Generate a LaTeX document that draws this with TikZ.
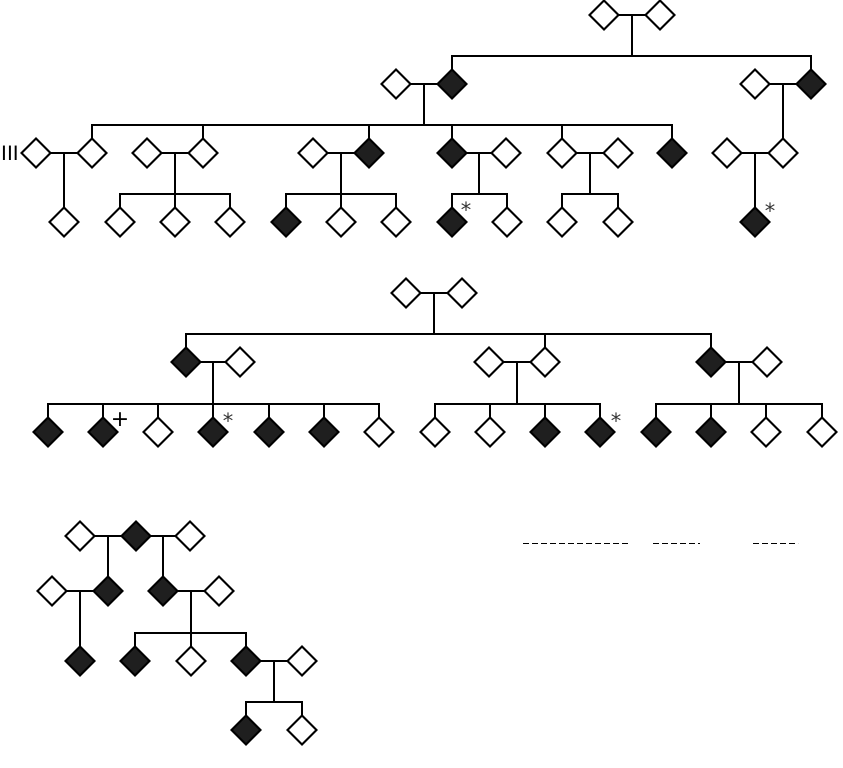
\documentclass[tikz,border=0pt]{standalone}
\usepackage{fontspec}
\newfontfamily\mkfont{DejaVu Sans}
\newfontfamily\lblfont{Liberation Sans}
\usetikzlibrary{shapes.geometric,calc}
\begin{document}
\begin{tikzpicture}[x=1pt,y=-1pt,
  ind/.style={diamond,draw=black,line width=1.8pt,minimum width=29pt,minimum height=29pt,inner sep=0pt,outer sep=0pt},
  aff/.style={ind,fill=black!88},
  un/.style={ind,fill=white},
  ln/.style={line width=2pt,line cap=rect},
  star/.style={font=\mkfont\fontsize{21}{21}\selectfont,inner sep=0pt,text=black!80},
  plus/.style={font=\mkfont\fontsize{22}{22}\selectfont,inner sep=0pt},
  gen/.style={font=\lblfont\fontsize{21}{21}\selectfont,inner sep=0pt},
  dsh/.style={line width=1pt,dash pattern=on 6pt off 3pt}]
\useasboundingbox (0,0) rectangle (843,768);

% ---------------- Panel A ----------------
\node[un] (A1) at (604,15) {};
\node[un] (A2) at (660,15) {};
\node[un] (A3) at (396,84) {};
\node[aff] (A4) at (452,84) {};
\node[un] (A5) at (755,84) {};
\node[aff] (A6) at (811,84) {};
\coordinate (sA1) at (632,56);
\draw[ln] (A1) -- (A2);
\draw[ln] ($(A1)!.5!(A2)$) -- (sA1);
\draw[ln] (A4 |- sA1) -- (A6 |- sA1);
\draw[ln] (A4.north) -- (A4 |- sA1);
\draw[ln] (A6.north) -- (A6 |- sA1);

\node[un] (B1) at (36,153) {};
\node[un] (B2) at (92,153) {};
\node[un] (B3) at (147,153) {};
\node[un] (B4) at (203,153) {};
\node[un] (B5) at (313,153) {};
\node[aff] (B6) at (369,153) {};
\node[aff] (B7) at (452,153) {};
\node[un] (B8) at (506,153) {};
\node[un] (B9) at (562,153) {};
\node[un] (B10) at (618,153) {};
\node[aff] (B11) at (672,153) {};
\node[un] (B12) at (727,153) {};
\node[un] (B13) at (783,153) {};

\coordinate (sA2) at (424,125);
\draw[ln] (A3) -- (A4);
\draw[ln] ($(A3)!.5!(A4)$) -- (sA2);
\draw[ln] (B2 |- sA2) -- (B11 |- sA2);
\foreach \c in {B2,B4,B6,B7,B9,B11} \draw[ln] (\c.north) -- (\c |- sA2);
\draw[ln] (A5) -- (A6);
\draw[ln] ($(A5)!.5!(A6)$) -- (B13.north);

\node[un] (C1) at (64,222) {};
\node[un] (C2) at (120,222) {};
\node[un] (C3) at (175,222) {};
\node[un] (C4) at (230,222) {};
\node[aff] (C5) at (286,222) {};
\node[un] (C6) at (341,222) {};
\node[un] (C7) at (396,222) {};
\node[aff] (C8) at (452,222) {};
\node[un] (C9) at (507,222) {};
\node[un] (C10) at (562,222) {};
\node[un] (C11) at (618,222) {};
\node[aff] (C12) at (755,222) {};

\draw[ln] (B1) -- (B2);
\draw[ln] ($(B1)!.5!(B2)$) -- (C1.north);

\draw[ln] (B3) -- (B4);
\coordinate (sB34) at (175,194);
\draw[ln] ($(B3)!.5!(B4)$) -- (sB34);
\draw[ln] (C2 |- sB34) -- (C4 |- sB34);
\foreach \c in {C2,C3,C4} \draw[ln] (\c.north) -- (\c |- sB34);

\draw[ln] (B5) -- (B6);
\coordinate (sB56) at (341,194);
\draw[ln] ($(B5)!.5!(B6)$) -- (sB56);
\draw[ln] (C5 |- sB56) -- (C7 |- sB56);
\foreach \c in {C5,C6,C7} \draw[ln] (\c.north) -- (\c |- sB56);

\draw[ln] (B7) -- (B8);
\coordinate (sB78) at (479,194);
\draw[ln] ($(B7)!.5!(B8)$) -- (sB78);
\draw[ln] (C8 |- sB78) -- (C9 |- sB78);
\foreach \c in {C8,C9} \draw[ln] (\c.north) -- (\c |- sB78);

\draw[ln] (B9) -- (B10);
\coordinate (sB910) at (590,194);
\draw[ln] ($(B9)!.5!(B10)$) -- (sB910);
\draw[ln] (C10 |- sB910) -- (C11 |- sB910);
\foreach \c in {C10,C11} \draw[ln] (\c.north) -- (\c |- sB910);

\draw[ln] (B12) -- (B13);
\draw[ln] ($(B12)!.5!(B13)$) -- (C12.north);

\node[gen,anchor=west] (lIII) at (1,153) {III};
\node[star] (s1) at (466,210) {*};
\node[star] (s2) at (770,211) {*};

% ---------------- Panel B ----------------
\node[un] (D1) at (406,293) {};
\node[un] (D2) at (462,293) {};
\coordinate (sD) at (434,334);
\draw[ln] (D1) -- (D2);
\draw[ln] ($(D1)!.5!(D2)$) -- (sD);

\node[aff] (E1) at (186,362) {};
\node[un] (E2) at (240,362) {};
\node[un] (E3) at (489,362) {};
\node[un] (E4) at (545,362) {};
\node[aff] (E5) at (711,362) {};
\node[un] (E6) at (767,362) {};
\draw[ln] (E1 |- sD) -- (E5 |- sD);
\foreach \c in {E1,E4,E5} \draw[ln] (\c.north) -- (\c |- sD);

\node[aff] (F1) at (48,432) {};
\node[aff] (F2) at (103,432) {};
\node[un] (F3) at (158,432) {};
\node[aff] (F4) at (213,432) {};
\node[aff] (F5) at (269,432) {};
\node[aff] (F6) at (324,432) {};
\node[un] (F7) at (379,432) {};
\node[un] (F8) at (435,432) {};
\node[un] (F9) at (490,432) {};
\node[aff] (F10) at (545,432) {};
\node[aff] (F11) at (600,432) {};
\node[aff] (F12) at (656,432) {};
\node[aff] (F13) at (711,432) {};
\node[un] (F14) at (766,432) {};
\node[un] (F15) at (822,432) {};

\draw[ln] (E1) -- (E2);
\coordinate (sE12) at (213,404);
\draw[ln] ($(E1)!.5!(E2)$) -- (sE12);
\draw[ln] (F1 |- sE12) -- (F7 |- sE12);
\foreach \c in {F1,F2,F3,F4,F5,F6,F7} \draw[ln] (\c.north) -- (\c |- sE12);

\draw[ln] (E3) -- (E4);
\coordinate (sE34) at (517,404);
\draw[ln] ($(E3)!.5!(E4)$) -- (sE34);
\draw[ln] (F8 |- sE34) -- (F11 |- sE34);
\foreach \c in {F8,F9,F10,F11} \draw[ln] (\c.north) -- (\c |- sE34);

\draw[ln] (E5) -- (E6);
\coordinate (sE56) at (739,404);
\draw[ln] ($(E5)!.5!(E6)$) -- (sE56);
\draw[ln] (F12 |- sE56) -- (F15 |- sE56);
\foreach \c in {F12,F13,F14,F15} \draw[ln] (\c.north) -- (\c |- sE56);

\node[plus] (p1) at (120,420) {+};
\node[star] (s3) at (228,421) {*};
\node[star] (s4) at (616,421) {*};

% ---------------- Panel C ----------------
\node[un] (G1) at (80,536) {};
\node[aff] (G2) at (136,536) {};
\node[un] (G3) at (190,536) {};
\node[un] (H1) at (52,591) {};
\node[aff] (H2) at (108,591) {};
\node[aff] (H3) at (163,591) {};
\node[un] (H4) at (219,591) {};
\draw[ln] (G1) -- (G2);
\draw[ln] (G2) -- (G3);
\draw[ln] ($(G1)!.5!(G2)$) -- (H2.north);
\draw[ln] ($(G2)!.5!(G3)$) -- (H3.north);

\node[aff] (I1) at (80,661) {};
\node[aff] (I2) at (135,661) {};
\node[un] (I3) at (191,661) {};
\node[aff] (I4) at (246,661) {};
\node[un] (I5) at (302,661) {};
\draw[ln] (H1) -- (H2);
\draw[ln] ($(H1)!.5!(H2)$) -- (I1.north);
\draw[ln] (H3) -- (H4);
\coordinate (sH34) at (191,633);
\draw[ln] ($(H3)!.5!(H4)$) -- (sH34);
\draw[ln] (I2 |- sH34) -- (I4 |- sH34);
\foreach \c in {I2,I3,I4} \draw[ln] (\c.north) -- (\c |- sH34);

\node[aff] (J1) at (246,730) {};
\node[un] (J2) at (302,730) {};
\draw[ln] (I4) -- (I5);
\coordinate (sI45) at (274,702);
\draw[ln] ($(I4)!.5!(I5)$) -- (sI45);
\draw[ln] (J1 |- sI45) -- (J2 |- sI45);
\foreach \c in {J1,J2} \draw[ln] (\c.north) -- (\c |- sI45);

% ---------------- Panel D (remnant rules) ----------------
\coordinate (d1a) at (523,543); \coordinate (d1b) at (630,543);
\coordinate (d2a) at (653,543); \coordinate (d2b) at (700,543);
\coordinate (d3a) at (753,543); \coordinate (d3b) at (798,543);
\draw[dsh] (d1a) -- (d1b);
\draw[dsh] (d2a) -- (d2b);
\draw[dsh] (d3a) -- (d3b);
\end{tikzpicture}
\end{document}
